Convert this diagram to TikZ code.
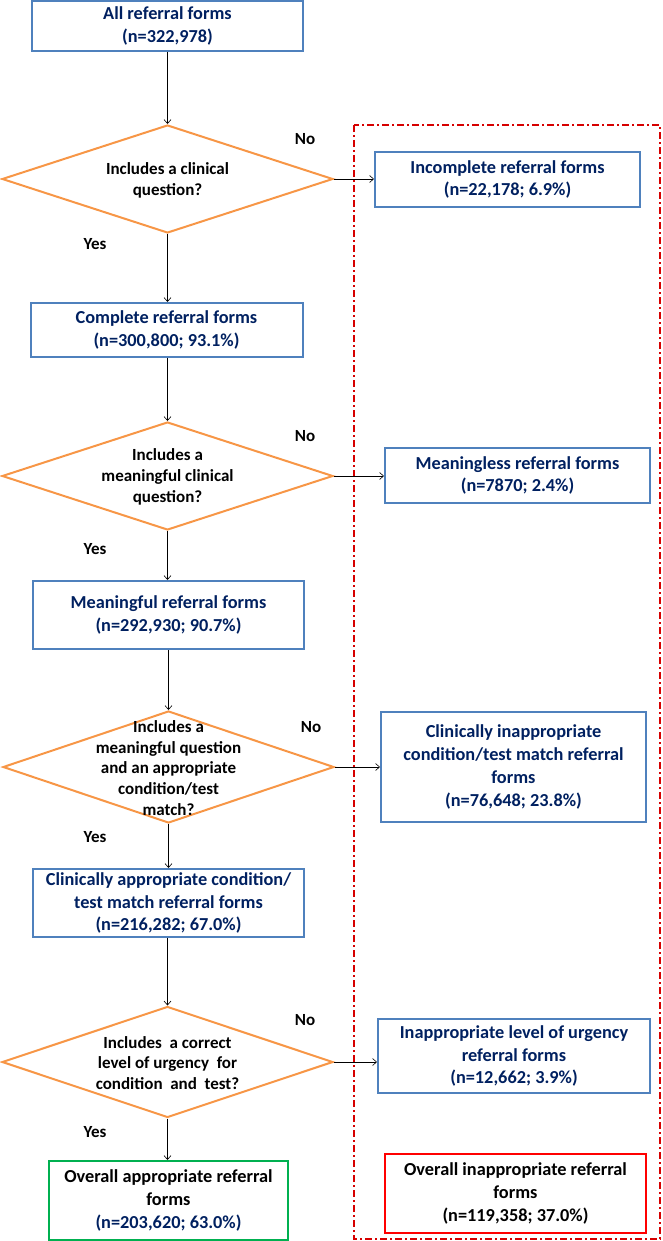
\documentclass[tikz,border=0pt]{standalone}
\usepackage{fontspec}
\setmainfont{Carlito}
\usetikzlibrary{shapes.geometric,arrows.meta}
\definecolor{navy}{RGB}{0,32,96}
\definecolor{boxblue}{RGB}{79,129,189}
\definecolor{dorange}{RGB}{247,150,70}
\definecolor{gbox}{RGB}{0,176,80}
\definecolor{rbox}{RGB}{255,0,0}
\definecolor{dashred}{RGB}{214,0,0}
\tikzset{
  x=1pt, y=-1pt,
  bluebox/.style={draw=boxblue, line width=2pt, rectangle, inner sep=0pt, align=center,
    text=navy, font=\fontsize{18.3}{22.8}\selectfont\bfseries},
  decision/.style={draw=dorange, line width=2pt, diamond, inner sep=0pt},
  dtext/.style={align=center, text=black, inner sep=0pt, font=\fontsize{17}{20.8}\selectfont\bfseries},
  yn/.style={text=black, inner sep=0pt, font=\fontsize{17}{20}\selectfont\bfseries},
  arr/.style={-{Straight Barb[length=4pt,width=7pt]}, line width=0.6pt, black},
}
\begin{document}
\begin{tikzpicture}
\useasboundingbox (0,0) rectangle (662,1241);
% red dashed region
\draw[dashred, line width=1.6pt, dash pattern=on 7pt off 3pt on 2pt off 3pt] (354,125) rectangle (660,1239);

% left column
\node[bluebox, minimum width=271pt, minimum height=50pt] (b1) at (167.5,26) {All referral forms\\(n=322,978)};
\node[decision, minimum width=331pt, minimum height=108pt] (d1) at (167.5,179) {};
\node[dtext] (t1) at (167.5,180) {Includes a clinical\\question?};
\node[bluebox, minimum width=272pt, minimum height=54pt] (b2) at (166.5,330) {Complete referral forms\\(n=300,800; 93.1\%)};
\node[decision, minimum width=331pt, minimum height=108pt] (d2) at (167.5,476) {};
\node[dtext] (t2) at (167.5,477) {Includes a\\meaningful clinical\\question?};
\node[bluebox, minimum width=271pt, minimum height=68pt] (b3) at (168.5,615) {Meaningful referral forms\\(n=292,930; 90.7\%)};
\node[decision, minimum width=331pt, minimum height=112pt] (d3) at (168.5,767) {};
\node[dtext] (t3) at (168.5,768) {Includes a\\meaningful question\\and an appropriate\\condition/test\\match?};
\node[bluebox, minimum width=271pt, minimum height=68pt] (b4) at (168.5,903) {Clinically appropriate condition/\\test match referral forms\\(n=216,282; 67.0\%)};
\node[decision, minimum width=331pt, minimum height=111pt] (d4) at (167.5,1062) {};
\node[dtext] (t4) at (167.5,1063) {Includes \ a correct\\level of urgency \ for\\condition \ and \ test?};
\node[bluebox, draw=gbox, minimum width=239pt, minimum height=79pt] (b5) at (168.5,1200.5) {\textcolor{black}{Overall appropriate referral}\\\textcolor{black}{forms}\\(n=203,620; 63.0\%)};

% right column
\node[bluebox, minimum width=265pt, minimum height=55pt] (r1) at (507.5,179.5) {Incomplete referral forms\\(n=22,178; 6.9\%)};
\node[bluebox, minimum width=265pt, minimum height=55pt] (r2) at (517.5,475.5) {Meaningless referral forms\\(n=7870; 2.4\%)};
\node[bluebox, minimum width=265pt, minimum height=110pt] (r3) at (513.5,767) {Clinically inappropriate\\condition/test match referral\\forms\\(n=76,648; 23.8\%)};
\node[bluebox, minimum width=272pt, minimum height=74pt] (r4) at (514,1056) {Inappropriate level of urgency\\referral forms\\(n=12,662; 3.9\%)};
\node[bluebox, draw=rbox, text=black, minimum width=261pt, minimum height=79pt] (r5) at (515.5,1193.5) {Overall inappropriate referral\\forms\\(n=119,358; 37.0\%)};

% labels
\node[yn] (no1) at (305,139) {No};
\node[yn] (no2) at (305,436) {No};
\node[yn] (no3) at (311,727) {No};
\node[yn] (no4) at (305,1020) {No};
\node[yn] (yes1) at (95,244) {Yes};
\node[yn] (yes2) at (95,549) {Yes};
\node[yn] (yes3) at (95,837) {Yes};
\node[yn] (yes4) at (95,1132) {Yes};

% vertical connectors
\draw[arr] (b1.south -| d1.north) -- (d1.north);
\draw[arr] (d1.south) -- (b2.north -| d1.south);
\draw[arr] (b2.south -| d2.north) -- (d2.north);
\draw[arr] (d2.south) -- (b3.north -| d2.south);
\draw[arr] (b3.south -| d3.north) -- (d3.north);
\draw[arr] (d3.south) -- (b4.north -| d3.south);
\draw[arr] (b4.south -| d4.north) -- (d4.north);
\draw[arr] (d4.south) -- (b5.north -| d4.south);
% horizontal connectors
\draw[arr] (d1.east) -- (d1.east -| r1.west);
\draw[arr] (d2.east) -- (d2.east -| r2.west);
\draw[arr] (d3.east) -- (d3.east -| r3.west);
\draw[arr] (d4.east) -- (d4.east -| r4.west);
\end{tikzpicture}
\end{document}
